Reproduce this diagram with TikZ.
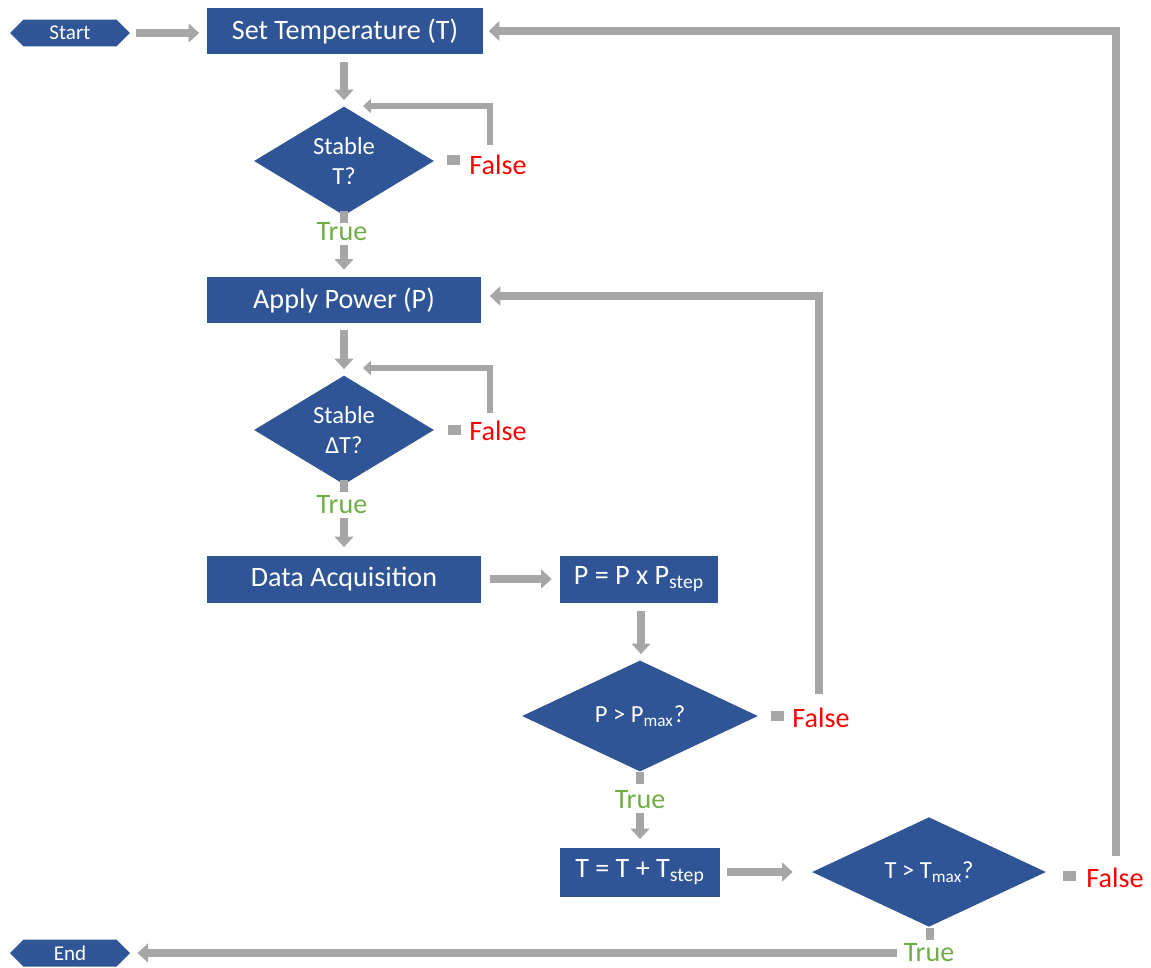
\documentclass[tikz,border=0pt]{standalone}
\usepackage{fontspec}
\setmainfont{Carlito}
\usetikzlibrary{shapes.geometric,shapes.symbols,arrows.meta}
\definecolor{fblue}{HTML}{2F5597}
\definecolor{fgray}{HTML}{A6A6A6}
\definecolor{fred}{HTML}{FF0000}
\definecolor{fgreen}{HTML}{70AD47}
\begin{document}
\begin{tikzpicture}[x=0.02cm,y=-0.02cm,
  box/.style={rectangle,fill=fblue,text=white,inner sep=0pt,font=\fontsize{16}{18}\selectfont},
  dec/.style={diamond,fill=fblue,text=white,inner sep=0pt,align=center,font=\fontsize{14}{17}\selectfont},
  term/.style={signal,signal to=west and east,signal pointer angle=90,fill=fblue,text=white,
    minimum width=2.4cm,minimum height=0.54cm,inner sep=0pt,font=\fontsize{12}{14}\selectfont},
  arr/.style={draw=fgray,line width=4.5pt,-{Triangle[width=10.5pt,length=6pt]}},
  bigarr/.style={draw=fgray,line width=5pt,-{Triangle[width=11pt,length=6pt]}},
  smallarr/.style={draw=fgray,line width=3pt,-{Triangle[width=8pt,length=4.5pt]}},
  sq/.style={rectangle,fill=fgray,inner sep=0pt,minimum width=0.26cm,minimum height=0.2cm},
  stub/.style={rectangle,fill=fgray,inner sep=0pt,minimum width=0.16cm,minimum height=0.24cm},
  ftxt/.style={text=fred,inner sep=0pt,font=\fontsize{16}{18}\selectfont},
  ttxt/.style={text=fgreen,inner sep=0pt,font=\fontsize{16}{18}\selectfont}
]
\useasboundingbox (0,0) rectangle (1151,967);

% terminals
\node[term] (Start) at (70,33) {Start};
\node[term] (End) at (70,953) {End};

% process boxes
\node[box,minimum width=5.54cm,minimum height=0.94cm] (SetT) at (345,31) {Set Temperature (T)};
\node[box,minimum width=5.5cm,minimum height=0.92cm] (Power) at (344,300) {Apply Power (P)};
\node[box,minimum width=5.5cm,minimum height=0.94cm] (DAQ) at (344,579) {Data Acquisition};
\node[box,minimum width=3.16cm,minimum height=0.94cm] (Pstep) at (639,579) {P = P x P\textsubscript{step}};
\node[box,minimum width=3.2cm,minimum height=0.98cm] (Tstep) at (640,872) {T = T + T\textsubscript{step}};

% decisions
\node[dec,minimum width=3.6cm,minimum height=1.82cm] (D1) at (344,161) {Stable\\T?};
\node[dec,minimum width=3.6cm,minimum height=1.84cm] (D2) at (344,430) {Stable\\ΔT?};
\node[dec,minimum width=4.72cm,minimum height=1.96cm] (D3) at (640,716) {P > P\textsubscript{max}?};
\node[dec,minimum width=4.68cm,minimum height=1.92cm] (D4) at (929,872) {T > T\textsubscript{max}?};

% False labels
\node[sq] (F1s) at (453,160) {};
\node[ftxt] (F1) at (498,165) {False};
\node[sq] (F2s) at (454,430) {};
\node[ftxt] (F2) at (498,431) {False};
\node[sq] (F3s) at (777,716) {};
\node[ftxt] (F3) at (821,718) {False};
\node[sq] (F4s) at (1069,876) {};
\node[ftxt] (F4) at (1115,878) {False};

% True labels
\node[stub] (T1s) at (344,217) {};
\node[ttxt] (T1) at (342,232) {True};
\node[stub] (T2s) at (344,486) {};
\node[ttxt] (T2) at (342,505) {True};
\node[stub] (T3s) at (640,778) {};
\node[ttxt] (T3) at (640,800) {True};
\node[stub] (T4s) at (930,934) {};
\node[ttxt] (T4) at (929,953) {True};

% loop coordinates
\coordinate (L1a) at (490,145);
\coordinate (L1b) at (363,106);
\coordinate (L2a) at (490,413);
\coordinate (L2b) at (363,368);
\coordinate (LPa) at (819,694);
\coordinate (LTa) at (1116,856);

% straight connectors
\draw[arr,shorten <=0.12cm,shorten >=0.14cm] (Start.east) -- (Start.east -| SetT.west);
\draw[arr,shorten <=0.14cm,shorten >=0.12cm] (D1.north |- SetT.south) -- (D1.north);
\draw[arr,shorten <=0.08cm,shorten >=0.14cm] (Power.north |- T1.south) -- (Power.north);
\draw[arr,shorten <=0.14cm,shorten >=0.12cm] (Power.south) -- (D2.north);
\draw[arr,shorten <=0.08cm,shorten >=0.16cm] (DAQ.north |- T2.south) -- (DAQ.north);
\draw[arr,shorten <=0.16cm,shorten >=0.16cm] (DAQ.east) -- (Pstep.west);
\draw[arr,shorten <=0.16cm,shorten >=0.12cm] ([xshift=0.04cm]Pstep.south) -- ([xshift=0.04cm]Pstep.south |- D3.north);
\draw[arr,shorten <=0.08cm,shorten >=0.16cm] (T3.south) -- (Tstep.north);
\draw[arr,shorten <=0.14cm,shorten >=0.38cm] (Tstep.east) -- (D4.west);
\draw[arr,shorten <=0.12cm,shorten >=0.14cm] (T4.west) -- (End.east);

% loops
\draw[smallarr] (L1a) |- (L1b);
\draw[smallarr] (L2a) |- (L2b);
\draw[bigarr,shorten >=0.16cm] (LPa) |- ([yshift=0.08cm]Power.east);
\draw[bigarr,shorten >=0.1cm] (LTa) |- (SetT.east);
\end{tikzpicture}
\end{document}
